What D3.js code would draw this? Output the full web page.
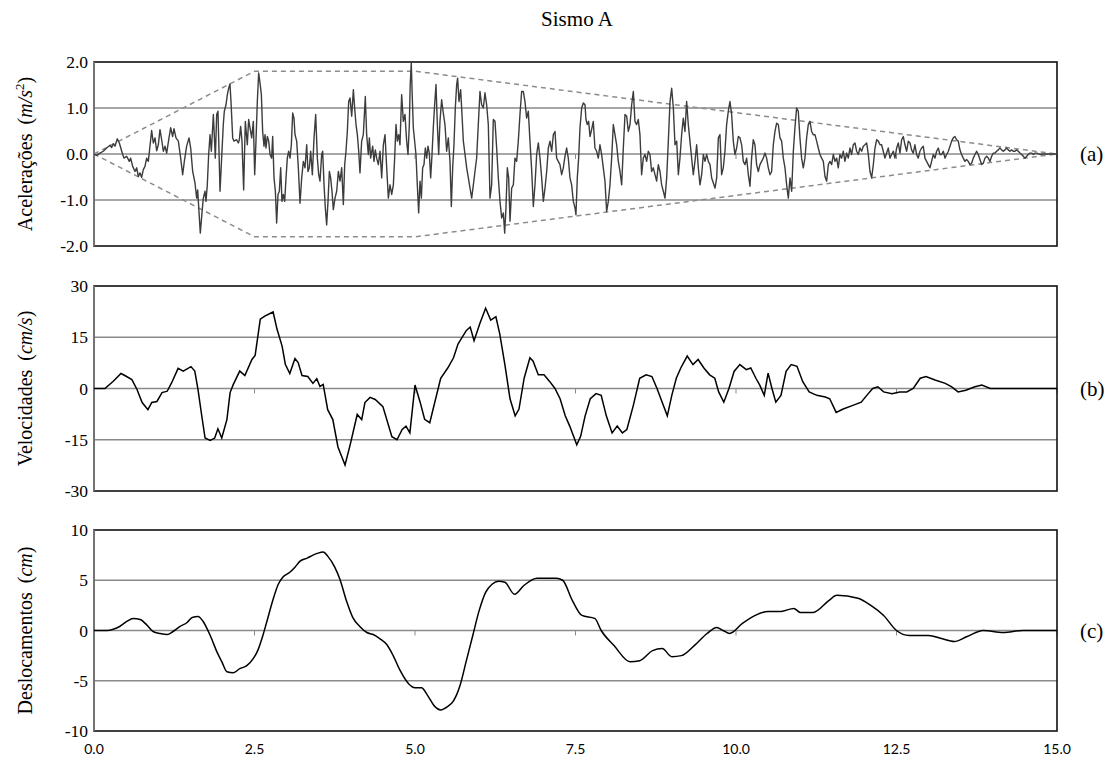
<!DOCTYPE html>
<html>
<head>
<meta charset="utf-8">
<script src="https://cdn.jsdelivr.net/npm/d3@7"></script>
<style>
  body { margin: 0; background: #fff; }
</style>
</head>
<body>
<div id="chart"></div>
<script>
// Datos (tiempo en s)
const accT = [0,0.042,0.093,0.145,0.197,0.249,0.275,0.301,0.327,0.363,0.395,0.415,0.447,0.467,0.509,0.550,0.571,0.602,0.639,0.665,0.691,0.717,0.742,0.768,0.794,0.820,0.846,0.872,0.898,0.924,0.950,0.976,1.002,1.028,1.054,1.080,1.106,1.132,1.168,1.194,1.225,1.246,1.277,1.314,1.350,1.381,1.407,1.443,1.480,1.506,1.537,1.573,1.599,1.615,1.635,1.656,1.682,1.703,1.729,1.744,1.765,1.786,1.807,1.828,1.859,1.890,1.911,1.931,1.963,1.988,2.014,2.030,2.056,2.077,2.098,2.118,2.134,2.160,2.181,2.222,2.248,2.264,2.284,2.305,2.331,2.357,2.388,2.409,
  2.456,2.482,2.503,2.523,2.544,2.565,2.586,2.607,2.627,2.648,2.664,2.679,2.700,2.721,2.742,2.767,2.783,2.804,2.825,2.845,2.866,2.887,2.908,2.928,2.949,2.970,2.991,3.011,3.032,3.053,3.074,3.095,3.115,3.131,3.157,3.183,3.209,3.235,3.261,3.287,3.313,3.333,3.354,3.375,3.401,3.427,3.453,3.479,3.500,3.520,3.546,3.562,3.583,3.603,3.624,3.645,3.666,3.686,3.707,3.728,3.754,3.780,3.806,3.832,3.858,3.884,3.905,3.925,3.946,3.967,3.988,4.014,4.040,4.060,4.081,4.102,4.123,4.143,4.169,4.195,4.226,4.247,4.273,4.289,4.309,4.341,4.361,4.382,4.403,4.429,4.455,4.481,4.507,4.533,4.559,4.585,4.611,4.637,4.663,4.683,4.704,4.725,4.746,4.766,4.792,4.818,4.844,4.870,4.891,4.912,4.925,4.942,4.958,
  4.974,5.000,5.015,5.036,5.057,5.078,5.099,5.119,5.140,5.161,5.182,5.202,5.223,5.244,5.265,5.285,5.306,5.327,5.348,5.369,5.389,5.415,5.441,5.467,5.493,5.519,5.545,5.566,5.587,5.607,5.628,5.649,5.664,5.685,5.711,5.732,5.753,5.779,5.805,5.831,5.857,5.883,5.909,5.934,5.960,5.986,6.012,6.038,6.064,6.090,6.116,6.142,6.168,6.194,6.220,6.246,6.272,6.298,6.324,6.350,6.376,6.397,6.417,6.438,6.459,6.480,6.506,6.532,6.557,6.583,6.609,6.635,6.661,6.687,6.713,6.739,6.765,6.791,6.817,6.843,6.869,6.895,6.921,6.947,6.973,6.999,7.025,7.051,7.077,7.103,7.129,7.155,7.181,7.206,7.232,7.258,7.284,7.310,7.336,7.362,7.388,
  7.414,7.440,7.466,7.492,7.507,7.528,7.549,7.570,7.596,7.622,7.648,7.663,7.684,7.705,7.726,7.751,7.777,7.803,7.829,7.855,7.881,7.907,7.933,7.959,7.985,8.011,8.037,8.063,8.089,8.115,8.141,8.167,8.193,8.219,8.245,8.271,8.297,8.323,8.349,8.375,8.401,8.426,8.452,8.478,8.504,8.530,8.556,8.582,8.608,8.634,8.660,8.686,8.712,8.738,8.764,8.790,8.816,8.842,8.868,8.894,8.920,8.946,8.972,8.998,9.024,9.050,9.076,9.102,9.127,9.153,9.179,9.205,9.231,9.257,9.283,9.309,9.335,9.361,9.387,9.413,9.439,9.465,9.491,9.517,9.543,9.569,9.595,9.621,9.647,9.673,9.699,9.725,9.750,9.776,9.802,9.828,9.854,9.880,
  9.906,9.932,9.958,9.984,10.010,10.036,10.062,10.088,10.114,10.140,10.166,10.192,10.218,10.243,10.269,10.295,10.321,10.347,10.373,10.399,10.425,10.451,10.477,10.503,10.529,10.555,10.581,10.607,10.633,10.659,10.685,10.711,10.737,10.763,10.789,10.815,10.841,10.867,10.893,10.918,10.944,10.970,10.996,11.022,11.048,11.074,11.100,11.126,11.152,11.178,11.204,11.230,11.256,11.282,11.308,11.334,11.360,11.386,11.412,11.438,11.464,11.490,11.516,11.542,11.568,11.593,11.619,11.645,11.671,11.697,11.723,11.749,11.775,11.801,11.827,11.853,11.879,11.905,11.931,11.957,11.983,12.009,12.035,12.061,12.087,12.113,12.139,12.165,12.191,12.217,12.243,12.268,12.294,12.320,12.346,12.372,
  12.398,12.424,12.450,12.476,12.502,12.528,12.554,12.580,12.606,12.632,12.658,12.684,12.710,12.735,12.761,12.787,12.813,12.839,12.865,12.891,12.917,12.943,12.969,12.995,13.021,13.047,13.073,13.099,13.125,13.151,13.177,13.203,13.229,13.255,13.281,13.307,13.333,13.359,13.384,13.410,13.436,13.462,13.488,13.514,13.540,13.566,13.592,13.618,13.644,13.670,13.696,13.722,13.748,13.774,13.800,13.826,13.852,13.878,13.904,13.930,13.956,13.982,14.008,14.034,14.059,14.085,14.111,14.137,14.163,14.189,14.215,14.241,14.267,14.293,14.319,14.345,14.371,14.397,14.423,14.449,14.475,14.501,14.527,14.553,14.579,14.605,14.631,14.657,14.683,14.735,14.786,14.890,15.0];
const accA = [0,-0.03,0.02,0.06,0.13,0.19,0.14,0.22,0.17,0.33,0.24,0.14,-0.01,-0.09,-0.05,-0.16,-0.09,-0.27,-0.38,-0.30,-0.49,-0.41,-0.51,-0.34,-0.27,-0.09,-0.16,0.17,0.51,0.24,0.35,0.07,0.20,0.53,0.31,0.06,0.17,0.02,0.35,0.57,0.38,0.55,0.35,0.28,-0.09,-0.45,-0.16,0.17,0.35,0.13,-0.38,-0.63,-0.96,-0.78,-1.25,-1.72,-1.28,-0.96,-0.81,-1.03,-0.67,-0.01,0.42,0.06,0.86,-0.09,0.86,0.93,-0.81,-0.09,0.64,0.93,1.07,1.29,1.43,1.52,1.14,0.35,0.28,0.31,0.24,0.31,0.60,0.28,-0.78,0.71,0.20,0.75,
  0.35,0.71,-0.45,0.28,1.14,1.76,1.54,1.29,0.49,0.17,0.42,0.13,0.38,0.28,-0.01,-0.09,0.38,-0.52,-0.81,-1.50,-0.88,-0.81,-0.30,-1.03,-0.88,-1.03,-0.52,-0.09,0.06,-0.09,0.20,0.89,0.78,0.42,0.28,-0.30,-1.07,-0.52,-0.16,-0.30,0.20,-0.38,-0.30,0.06,-0.45,0.35,0.86,-0.09,-0.45,-0.59,-0.01,0.06,-0.67,-1.17,-1.54,-1.03,-0.38,-0.52,-0.81,-1.21,-0.96,-0.81,-0.38,-0.59,-0.30,-1.10,-0.23,0.06,0.49,1.14,1.22,0.82,1.40,1.00,0.64,0.42,0.06,-0.41,0.28,0.42,1.25,0.42,-0.01,0.35,-0.09,0.17,-0.16,0.09,-0.09,-0.23,0.06,-0.52,0.20,0.42,-0.30,-0.96,-0.67,-0.88,-0.67,-0.09,0.64,0.28,0.42,0.20,1.29,0.71,0.86,0.28,-0.01,0.64,1.50,1.98,1.22,
  0.57,0.20,-0.01,-0.67,-1.28,-0.59,-0.96,-0.30,-0.23,0.13,-0.09,0.17,0.02,-0.52,-0.01,0.57,1.07,1.51,0.64,-0.01,0.71,1.18,0.89,0.64,0.06,0.35,-0.16,-1.14,-0.30,0.20,1.00,1.51,1.65,1.14,1.40,0.86,0.28,-0.01,-0.30,-0.52,-0.74,-0.96,-0.67,-0.38,-0.09,0.64,1.36,1.07,1.00,1.33,1.07,0.64,-0.96,-0.67,0.75,0.71,0.13,-0.52,-1.03,-1.39,-1.28,-1.72,-1.17,-0.30,-0.52,-1.46,-0.74,-0.67,-0.09,-0.16,0.28,0.86,1.36,1.36,1.14,0.78,0.93,0.28,-0.34,-1.14,-0.67,-0.01,0.24,-0.09,-0.52,-1.03,-0.74,-0.38,0.13,0.28,0.06,0.42,0.49,-0.09,-0.16,-0.23,-0.45,-0.30,-0.05,0.13,-0.09,
  -0.52,-0.67,-1.03,-1.17,-1.32,-0.52,-0.09,0.57,1.00,1.11,1.07,0.75,0.64,0.71,0.38,0.53,0.71,0.13,0.06,-0.09,0.20,-0.01,-0.30,-0.59,-1.25,-1.03,-0.67,-0.09,0.64,0.42,0.20,-0.16,-0.38,-0.67,0.13,0.86,0.82,0.49,0.64,1.07,1.36,0.71,0.64,0.75,0.42,-0.45,-0.09,-0.01,-0.16,0.06,-0.01,-0.38,-0.30,-0.45,-0.59,-0.23,-0.38,-0.67,-0.81,-0.96,-0.52,0.28,1.14,1.43,1.00,0.20,0.28,-0.45,-0.09,0.42,0.78,0.49,1.14,0.64,0.28,-0.09,-0.45,-0.16,0.20,-0.30,-0.67,-0.45,-0.01,-0.16,-0.01,-0.16,-0.23,-0.52,-0.63,-0.74,-0.52,0.35,0.42,-0.45,-0.30,0.06,0.64,0.93,
  1.14,0.86,0.28,-0.01,0.13,0.38,0.35,0.20,-0.16,-0.23,-0.09,-0.45,-0.70,-0.09,0.31,0.20,-0.23,-0.38,-0.23,-0.16,-0.09,0.02,-0.09,-0.30,-0.45,-0.38,0.20,0.49,0.67,0.64,0.35,0.28,-0.09,-0.30,-0.67,-0.96,-0.52,-0.81,0.06,0.57,1.00,0.93,0.35,-0.09,-0.30,-0.09,0.35,0.64,0.71,0.49,0.42,0.42,0.28,0.13,-0.01,-0.09,-0.16,-0.49,-0.59,-0.23,-0.16,-0.23,-0.01,-0.16,-0.09,-0.30,-0.01,-0.09,0.06,-0.16,0.02,-0.09,0.13,-0.01,0.20,0.24,0.06,-0.01,0.13,0.06,0.17,0.20,0.24,-0.01,-0.38,-0.52,-0.23,0.13,0.31,0.28,0.20,0.20,0.06,-0.09,0.02,0.13,
  -0.09,-0.01,0.06,-0.09,0.13,0.24,0.02,0.31,0.38,0.20,0.06,0.28,0.24,0.09,0.02,0.20,-0.01,-0.09,0.06,0.13,0.17,-0.09,-0.16,-0.23,-0.30,-0.16,-0.01,-0.09,0.06,0.13,-0.01,-0.01,0.06,-0.09,-0.01,0.06,0.17,0.28,0.35,0.38,0.31,0.28,0.09,-0.01,-0.09,-0.16,-0.12,-0.16,-0.23,-0.20,-0.09,-0.01,0.06,-0.01,-0.12,-0.23,-0.20,-0.09,-0.05,-0.09,-0.16,-0.05,0.02,0.02,0.06,0.09,0.13,0.09,0.06,0.09,0.13,0.09,0.06,0.09,0.06,0.06,0.09,0.06,0.02,-0.01,-0.05,-0.09,-0.05,-0.01,0.02,0.02,-0.01,0.02,0.02,-0.01,0,0,0];

// Envolvente
const envT = [0, 2.5, 5.0, 15.0];
const envUp = [0, 1.8, 1.8, 0];
const envDown = [0, -1.8, -1.8, 0];

const velT = [0,0.17,0.30,0.42,0.48,0.59,0.67,0.75,0.84,0.90,0.98,1.06,1.14,1.21,1.31,1.39,1.51,1.57,1.62,1.68,1.73,1.81,1.88,1.93,1.99,2.07,2.12,2.17,2.27,2.35,2.46,2.51,2.59,2.66,2.79,2.85,2.93,2.98,3.05,3.13,3.18,3.24,3.33,3.41,3.47,3.52,3.57,3.64,3.72,3.80,3.91,3.99,4.10,4.17,4.22,4.30,4.38,4.50,4.64,4.72,
  4.80,4.86,4.92,5.00,5.08,5.15,5.23,5.40,5.51,5.60,5.67,5.80,5.86,5.92,6.01,6.10,6.18,6.26,6.32,6.40,6.48,6.56,6.62,6.70,6.79,6.84,6.92,7.01,7.10,7.18,7.26,7.34,7.41,7.52,7.58,7.65,7.73,7.82,7.90,7.98,8.07,8.15,8.23,8.30,8.40,8.50,8.60,8.69,8.77,8.85,8.93,9.00,9.07,9.14,9.24,9.33,9.41,9.50,9.59,9.67,9.73,9.81,9.89,9.97,10.06,10.16,10.23,10.31,10.37,10.44,10.50,10.56,10.62,10.70,10.78,10.86,10.95,11.04,11.14,11.26,11.39,11.46,11.56,11.67,11.81,11.95,12.06,12.13,12.21,12.30,12.43,12.55,12.66,12.76,12.87,12.96,13.10,13.26,13.36,13.46,13.58,13.72,13.83,13.96,14.2,15.0];
const velV = [0,0,2.1,4.4,3.8,2.6,-0.3,-4.1,-6.2,-4.1,-3.8,-1.2,-0.8,1.7,5.9,5.1,6.4,5.1,-0.3,-8.2,-14.5,-15.2,-14.5,-11.8,-14.5,-9.1,-1.2,1.2,5.1,3.8,8.5,9.7,20.3,21.2,22.4,17.4,12.4,7.1,4.4,8.8,7.6,3.8,3.5,1.5,2.9,0.6,1.2,-6.2,-9.1,-17.1,-22.4,-16.5,-7.6,-9.1,-4.1,-2.6,-3.2,-5.3,-14.1,-15.0,
  -12,-11,-13,1,-4,-9,-10,3,6,9,13,17,18,14,19,23.5,20,21,16,7,-3,-8,-6,3,9,8,4,4,2,0,-3,-8,-11,-16.5,-14,-8,-3,-1.5,-2,-8,-13,-11,-13,-12,-5,3,4,3.5,0,-4,-8,-2,3,6,9.5,7,8.5,6,4,3,-1,-4,0,5,7,5.5,6,3,1,-2,4.5,0,-4,-2,5,7,6.5,2,-1,-2,-2.5,-3,-7,-6,-5,-4,-1.5,0,0.5,-1,-1.5,-1,-1,0,3,3.5,2.5,1.5,0.5,-1,-0.5,0.5,1,0,0,0];

const disT = [0,0.20,0.30,0.40,0.51,0.61,0.72,0.83,0.92,1.03,1.14,1.23,1.34,1.45,1.53,1.62,1.70,1.81,1.92,1.99,2.07,2.17,2.27,2.38,2.48,2.55,2.63,2.71,2.79,2.87,2.94,3.05,3.13,3.21,3.32,3.41,3.49,3.57,3.64,3.75,3.83,3.94,4.03,4.14,4.25,4.35,4.45,4.56,4.66,4.77,
  4.9,5.0,5.1,5.2,5.3,5.4,5.5,5.6,5.7,5.8,5.9,6.0,6.1,6.2,6.3,6.4,6.55,6.7,6.9,7.2,7.3,7.45,7.6,7.8,7.9,8.1,8.35,8.5,8.7,8.85,9.0,9.15,9.35,9.55,9.7,9.8,9.9,10.1,10.3,10.5,10.7,10.9,11.0,11.2,11.45,11.57,11.9,12.1,12.3,12.5,12.7,13.0,13.2,13.4,13.6,13.85,14.16,14.47,15.0];
const disV = [0,0,0.13,0.4,0.9,1.2,1.1,0.5,-0.1,-0.3,-0.4,-0.1,0.4,0.8,1.3,1.4,0.9,-0.5,-2.2,-3.1,-4.1,-4.2,-3.8,-3.5,-2.8,-2.0,-0.5,1.3,3.1,4.6,5.3,5.8,6.3,6.9,7.2,7.5,7.7,7.8,7.4,6.3,5.1,2.8,1.3,0.4,-0.2,-0.4,-0.8,-1.4,-2.5,-4.0,
  -5.3,-5.7,-5.7,-6.5,-7.5,-7.9,-7.6,-7.0,-5.5,-3.0,-0.5,2.0,3.8,4.6,4.9,4.8,3.6,4.5,5.2,5.2,5.0,3.0,1.5,1.2,0,-1.5,-3.1,-3.0,-2.0,-1.8,-2.6,-2.5,-1.5,-0.3,0.3,0,-0.3,0.7,1.5,1.9,1.9,2.2,1.8,1.8,3.0,3.5,3.2,2.5,1.5,0,-0.5,-0.5,-0.8,-1.1,-0.6,0,-0.2,0,0];

const xTicks = [0, 2.5, 5, 7.5, 10, 12.5, 15];
const accTicks = [2, 1, 0, -1, -2];
const velTicks = [30, 15, 0, -15, -30];
const disTicks = [10, 5, 0, -5, -10];

const serif = '"Liberation Serif", "DejaVu Serif", "Times New Roman", serif';
const width = 1115, height = 765;
const svg = d3.select('#chart').append('svg')
    .attr('width', width)
    .attr('height', height);

const x = d3.scaleLinear().domain([0, 15]).range([94, 1057]);

// titulo
svg.append('text')
    .attr('x', 577).attr('y', 26)
    .attr('text-anchor', 'middle')
    .attr('font-family', serif)
    .attr('font-size', 21)
    .text('Sismo A');

const panels = [
    {top: 62, bottom: 246, domain: [-2, 2], ticks: accTicks, fmt: d3.format('.1f'), tag: '(a)'},
    {top: 286, bottom: 491, domain: [-30, 30], ticks: velTicks, fmt: d3.format('d'), tag: '(b)'},
    {top: 530, bottom: 731, domain: [-10, 10], ticks: disTicks, fmt: d3.format('d'), tag: '(c)'}
];

panels.forEach(function(p) {
    p.y = d3.scaleLinear().domain(p.domain).range([p.bottom, p.top]);
    let g = svg.append('g');

    // grid
    g.selectAll('.grid')
        .data(p.ticks.slice(1, -1))
        .enter().append('line')
        .attr('x1', x(0)).attr('x2', x(15))
        .attr('y1', d => p.y(d)).attr('y2', d => p.y(d))
        .attr('stroke', '#8a8a8a')
        .attr('stroke-width', 1.3);

    // marcas sobre el eje cero
    g.selectAll('.tk')
        .data(xTicks)
        .enter().append('line')
        .attr('x1', d => x(d)).attr('x2', d => x(d))
        .attr('y1', p.y(0)).attr('y2', p.y(0) + 5)
        .attr('stroke', '#8a8a8a')
        .attr('stroke-width', 1);

    // marco
    g.append('rect')
        .attr('x', x(0)).attr('y', p.top)
        .attr('width', x(15) - x(0)).attr('height', p.bottom - p.top)
        .attr('fill', 'none')
        .attr('stroke', '#111')
        .attr('stroke-width', 1.6);
    g.append('line')
        .attr('x1', x(0)).attr('x2', x(0))
        .attr('y1', p.top).attr('y2', p.bottom)
        .attr('stroke', '#7a7a7a')
        .attr('stroke-width', 1.8);

    // etiquetas eje y
    g.selectAll('.yl')
        .data(p.ticks)
        .enter().append('text')
        .attr('x', 88)
        .attr('y', d => p.y(d) + 6)
        .attr('text-anchor', 'end')
        .attr('font-family', serif)
        .attr('font-size', 17.5)
        .text(d => p.fmt(d).replace('\u2212', '-'));

    svg.append('text')
        .attr('x', 1080)
        .attr('y', p.y(0) + 7)
        .attr('font-family', serif)
        .attr('font-size', 21)
        .text(p.tag);
});

// etiquetas de los ejes verticales
function yLabel(p, word, unit, sup) {
    let cy = (p.top + p.bottom) / 2;
    let t = svg.append('text')
        .attr('transform', 'translate(32,' + cy + ') rotate(-90)')
        .attr('text-anchor', 'middle')
        .attr('font-family', serif)
        .attr('font-size', 20);
    t.append('tspan').text(word);
    t.append('tspan').attr('dx', 9).text('(');
    t.append('tspan').attr('font-style', 'italic').text(unit);
    if (sup) {
        t.append('tspan').attr('font-size', 13).attr('dy', -8).text(sup);
        t.append('tspan').attr('dy', 8).text(')');
    } else {
        t.append('tspan').text(')');
    }
}
yLabel(panels[0], 'Acelerações', 'm/s', '2');
yLabel(panels[1], 'Velocidades', 'cm/s', null);
yLabel(panels[2], 'Deslocamentos', 'cm', null);

// eje x
svg.selectAll('.xl')
    .data(xTicks)
    .enter().append('text')
    .attr('x', d => x(d))
    .attr('y', 754)
    .attr('text-anchor', 'middle')
    .attr('font-size', 14)
    .attr('font-family', 'Lato, "Open Sans", sans-serif')
    .text(d => d3.format('.1f')(d));

// envolvente
const pa = panels[0];
const envLine = d3.line().x(d => x(d[0])).y(d => pa.y(d[1]));
[envUp, envDown].forEach(function(env) {
    svg.append('path')
        .datum(envT.map((t, i) => [t, env[i]]))
        .attr('d', envLine)
        .attr('fill', 'none')
        .attr('stroke', '#8c8c8c')
        .attr('stroke-width', 1.5)
        .attr('stroke-dasharray', '5,4');
});

// series
svg.append('path')
    .datum(accT.map((t, i) => [t, accA[i]]))
    .attr('d', envLine)
    .attr('fill', 'none')
    .attr('stroke', '#3c3c3c')
    .attr('stroke-width', 1.4)
    .attr('stroke-linejoin', 'round');

const pb = panels[1];
svg.append('path')
    .datum(velT.map((t, i) => [t, velV[i]]))
    .attr('d', d3.line().x(d => x(d[0])).y(d => pb.y(d[1])))
    .attr('fill', 'none')
    .attr('stroke', '#000')
    .attr('stroke-width', 1.5);

const pc = panels[2];
svg.append('path')
    .datum(disT.map((t, i) => [t, disV[i]]))
    .attr('d', d3.line().x(d => x(d[0])).y(d => pc.y(d[1])).curve(d3.curveMonotoneX))
    .attr('fill', 'none')
    .attr('stroke', '#000')
    .attr('stroke-width', 1.5);
</script>
</body>
</html>
